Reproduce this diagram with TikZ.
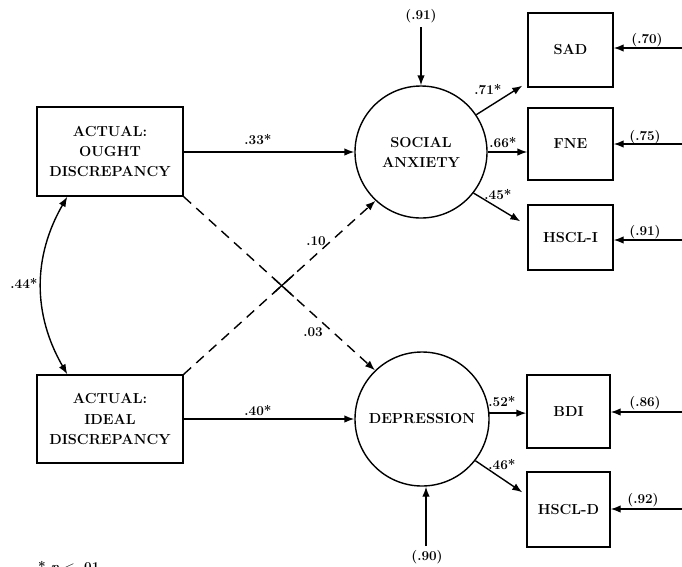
\documentclass[tikz,border=0pt]{standalone}
\usepackage{fontspec}
\usetikzlibrary{arrows.meta,calc,shapes.geometric}
\begin{document}
\begin{tikzpicture}[x=1pt,y=-1pt,
  lw/.style={line width=1.4pt},
  arr/.style={lw,-{Latex[length=10pt,width=7.5pt]}},
  dsh/.style={arr,dash pattern=on 10pt off 7pt},
  obs/.style={draw,lw,font=\fontsize{14.5}{20}\selectfont\bfseries,align=center,inner sep=0pt},
  lat/.style={draw,lw,circle,font=\fontsize{14.5}{20}\selectfont\bfseries,align=center,inner sep=0pt},
  lab/.style={font=\fontsize{13.5}{15}\selectfont\bfseries,inner sep=1pt}
]
\useasboundingbox (0,0) rectangle (682,566);
% exogenous boxes
\node[obs,minimum width=146pt,minimum height=89pt] (ought) at (110,151.5) {ACTUAL:\\OUGHT\\DISCREPANCY};
\node[obs,minimum width=146pt,minimum height=88pt] (ideal) at (110,419) {ACTUAL:\\IDEAL\\DISCREPANCY};
% latent
\node[lat,minimum size=132pt] (sa) at (421,152) {SOCIAL\\ANXIETY};
\node[lat,minimum size=134pt] (dep) at (422,419) {DEPRESSION};
% indicators
\node[obs,minimum width=85pt,minimum height=74pt] (sad) at (570.5,50) {SAD};
\node[obs,minimum width=85pt,minimum height=72pt] (fne) at (570.5,144) {FNE};
\node[obs,minimum width=85pt,minimum height=65pt] (hscli) at (570.5,237.5) {HSCL-I};
\node[obs,minimum width=83pt,minimum height=73pt] (bdi) at (568.5,411.5) {BDI};
\node[obs,minimum width=83pt,minimum height=75pt] (hscld) at (568.5,509.5) {HSCL-D};
% error sources
\coordinate (esa) at (421,27);
\coordinate (edep) at (426,546);
\coordinate (esad) at (682,48);
\coordinate (efne) at (682,144);
\coordinate (ehscli) at (682,240);
\coordinate (ebdi) at (682,412);
\coordinate (ehscld) at (682,509);
% structural paths
\draw[arr] (ought.east |- sa.center) -- (sa.west);
\draw[arr] (ideal.east |- dep.center) -- (dep.west);
\draw[dsh] (ought.south east) -- (dep.134);
\draw[dsh] (ideal.north east) -- (sa.227);
\draw[lw] ($(ought.south east)!0.47!(dep.134)$) -- ($(ought.south east)!0.575!(dep.134)$);
\draw[lw] ($(ideal.north east)!0.47!(sa.227)$) -- ($(ideal.north east)!0.575!(sa.227)$);
\draw[lw,{Latex[length=10pt,width=7.5pt]}-{Latex[length=10pt,width=7.5pt]}]
  ($(ought.south west)+(31,0)$) to[bend right=30] ($(ideal.north west)+(31,0)$);
% measurement paths
\draw[arr] (sa.34) -- ($(sad.south west)+(-5,-2)$);
\draw[arr] (sa.east) -- (sa.east -| fne.west);
\draw[arr] (sa.-38) -- ($(hscli.north west)+(-7,17)$);
\draw[arr] (dep.5) -- (dep.5 -| bdi.west);
\draw[arr] (dep.-38) -- ($(hscld.north west)+(-4,21)$);
% errors
\draw[arr] (esa) -- (sa.north);
\draw[arr] (edep) -- (edep |- dep.south);
\draw[arr] (esad) -- (esad -| sad.east);
\draw[arr] (efne) -- (efne -| fne.east);
\draw[arr] (ehscli) -- (ehscli -| hscli.east);
\draw[arr] (ebdi) -- (ebdi -| bdi.east);
\draw[arr] (ehscld) -- (ehscld -| hscld.east);
% labels
\node[lab] (l33) at (258,140) {.33*};
\node[lab] (l40) at (258,411) {.40*};
\node[lab] (l10) at (316,241) {.10};
\node[lab] (l03) at (313,332) {.03};
\node[lab] (l44) at (24,283) {.44*};
\node[lab] (l71) at (488,90) {.71*};
\node[lab] (l66) at (503,143) {.66*};
\node[lab] (l45) at (498,195) {.45*};
\node[lab] (l52) at (502,402) {.52*};
\node[lab] (l46) at (502,465) {.46*};
\node[lab] (e91) at (421,16) {(.91)};
\node[lab] (e90) at (427,557) {(.90)};
\node[lab] (e70) at (647,40) {(.70)};
\node[lab] (e75) at (645,137) {(.75)};
\node[lab] (e91b) at (645,232) {(.91)};
\node[lab] (e86) at (645,403) {(.86)};
\node[lab] (e92) at (643,500) {(.92)};
\node[lab,anchor=north west] (note) at (37,560) {* \textit{p} $<$ .01};
\end{tikzpicture}
\end{document}
